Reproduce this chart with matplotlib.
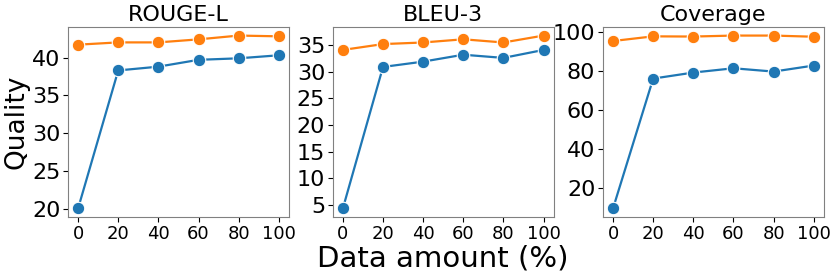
import numpy as np
import matplotlib
matplotlib.use("Agg")
import matplotlib.pyplot as plt

# data amount (%) on the x axis
amount = [0, 20, 40, 60, 80, 100]

rouge_blue = [20.1, 38.3, 38.8, 39.7, 39.9, 40.3]
rouge_orange = [41.7, 42.0, 42.0, 42.4, 42.9, 42.8]

bleu_blue = [4.3, 30.9, 31.9, 33.2, 32.6, 34.1]
bleu_orange = [34.1, 35.2, 35.5, 36.1, 35.5, 36.8]

cov_blue = [9.3, 76.0, 79.1, 81.3, 79.6, 82.7]
cov_orange = [95.3, 97.7, 97.6, 98.1, 98.1, 97.5]

titles = ["ROUGE-L", "BLEU-3", "Coverage"]
yticks = [np.arange(20, 41, 5), np.arange(5, 36, 5), np.arange(20, 101, 20)]
series = [(rouge_blue, rouge_orange), (bleu_blue, bleu_orange), (cov_blue, cov_orange)]

fig = plt.figure(figsize=(8.3, 2.72), dpi=100)
lefts = [0.082, 0.401, 0.7265]

for i in range(3):
    ax = fig.add_axes([lefts[i], 0.202, 0.266, 0.699])
    blue, orange = series[i]
    for vals, c in [(blue, "#1f77b4"), (orange, "#ff7f0e")]:
        ax.plot(amount, vals, "-o", color=c, lw=1.6, ms=9,
                markeredgecolor="white", markeredgewidth=0.8)
    ax.set_title(titles[i], fontsize=16, pad=4)
    ax.set_xticks(amount)
    ax.set_yticks(yticks[i])
    ax.tick_params(axis="y", labelsize=16, pad=2, length=3.5)
    ax.tick_params(axis="x", labelsize=13, pad=2, length=3.5)
    for s in ax.spines.values():
        s.set_color("#808080")
    if i == 0:
        ax.set_ylabel("Quality", fontsize=19, labelpad=2)
    if i == 1:
        ax.set_xlabel("Data amount (%)", fontsize=21, labelpad=1)

fig.savefig("out.png", dpi=100)
